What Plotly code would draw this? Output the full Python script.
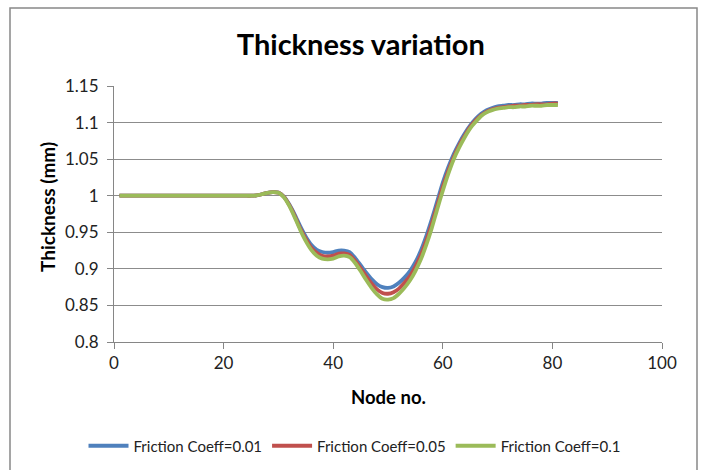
import plotly.graph_objects as go

nodes = list(range(1, 82))

flat = [1.0] * 25

coeff_001 = flat + [
    1.0005, 1.002, 1.004, 1.005, 1.0045, 0.999, 0.988, 0.974, 0.958, 0.944,
    0.933, 0.926, 0.923, 0.922, 0.923, 0.925, 0.925, 0.923, 0.915, 0.905,
    0.895, 0.886, 0.879, 0.875, 0.874, 0.876, 0.881, 0.888, 0.897, 0.909,
    0.925, 0.945, 0.968, 0.993, 1.018, 1.039, 1.057, 1.072, 1.085, 1.096,
    1.105, 1.112, 1.117, 1.120, 1.122, 1.123, 1.124, 1.124, 1.125, 1.125,
    1.126, 1.126, 1.126, 1.127, 1.127, 1.127,
]

coeff_005 = flat + [
    1.0005, 1.002, 1.004, 1.005, 1.0042, 0.9985, 0.987, 0.972, 0.955, 0.941,
    0.929, 0.922, 0.918, 0.917, 0.918, 0.921, 0.921, 0.919, 0.911, 0.901,
    0.890, 0.880, 0.872, 0.867, 0.866, 0.868, 0.873, 0.881, 0.890, 0.903,
    0.919, 0.939, 0.962, 0.987, 1.012, 1.034, 1.053, 1.069, 1.082, 1.094,
    1.103, 1.110, 1.115, 1.118, 1.120, 1.121, 1.122, 1.123, 1.123, 1.124,
    1.124, 1.125, 1.125, 1.125, 1.126, 1.126,
]

coeff_01 = flat + [
    1.0005, 1.002, 1.004, 1.005, 1.004, 0.998, 0.986, 0.970, 0.953, 0.938,
    0.926, 0.918, 0.914, 0.913, 0.914, 0.917, 0.918, 0.916, 0.908, 0.897,
    0.885, 0.874, 0.865, 0.859, 0.858, 0.860, 0.866, 0.874, 0.884, 0.897,
    0.913, 0.933, 0.956, 0.982, 1.007, 1.030, 1.050, 1.066, 1.080, 1.092,
    1.101, 1.109, 1.114, 1.117, 1.119, 1.120, 1.121, 1.121, 1.122, 1.122,
    1.123, 1.123, 1.123, 1.124, 1.124, 1.124,
]

series_names = ["Friction Coeff=0.01", "Friction Coeff=0.05", "Friction Coeff=0.1"]
series_values = [coeff_001, coeff_005, coeff_01]
series_colors = ["#4F81BD", "#C0504D", "#9BBB59"]

x_ticks = [0, 20, 40, 60, 80, 100]
y_ticks = [0.8, 0.85, 0.9, 0.95, 1.0, 1.05, 1.1, 1.15]
y_tick_text = ["0.8", "0.85", "0.9", "0.95", "1", "1.05", "1.1", "1.15"]

FONT = "Lato, Carlito, Calibri, sans-serif"
W, H = 702, 470
L, R, T, B = 114, 40, 86, 128
pw, ph = W - L - R, H - T - B

def px_x(px):
    return (px - L) / pw

def px_y(py):
    return (H - B - py) / ph

fig = go.Figure()
for name, vals, col in zip(series_names, series_values, series_colors):
    fig.add_trace(go.Scatter(
        x=nodes, y=vals, name=name, mode="lines",
        line=dict(color=col, width=3.8, shape="spline", smoothing=0.6),
    ))

fig.update_layout(
    width=W, height=H,
    margin=dict(l=L, r=R, t=T, b=B),
    paper_bgcolor="white", plot_bgcolor="white",
    font=dict(family=FONT, size=16, color="#222"),
    title=dict(text="<b>Thickness variation</b>", x=0.514, xref="container",
               y=1 - 45 / H, yref="container", xanchor="center", yanchor="middle",
               font=dict(family=FONT, size=29, color="black")),
    showlegend=True,
    legend=dict(orientation="h", x=0.505, xref="container", xanchor="center",
                y=1 - 446 / H, yref="container", yanchor="middle",
                font=dict(family=FONT, size=15, color="#222"),
                itemwidth=40, tracegroupgap=0, bgcolor="rgba(0,0,0,0)"),
    xaxis=dict(range=[0, 100], tickvals=x_ticks, showgrid=False,
               showline=True, linecolor="#868686", linewidth=1,
               ticks="outside", ticklen=6, tickcolor="#868686",
               zeroline=False, tickfont=dict(size=17, color="#222")),
    yaxis=dict(range=[0.8, 1.15], tickvals=y_ticks, ticktext=y_tick_text,
               showgrid=True, gridcolor="#8C8C8C", gridwidth=1,
               showline=True, linecolor="#868686", linewidth=1,
               ticks="outside", ticklen=6, tickcolor="#868686",
               ticklabelstandoff=5,
               zeroline=False, tickfont=dict(size=17, color="#222")),
    annotations=[
        dict(text="<b>Node no.</b>", xref="paper", yref="paper",
             x=0.5, y=px_y(397), xanchor="center", yanchor="middle",
             showarrow=False, font=dict(family=FONT, size=18.5, color="black")),
        dict(text="<b>Thickness (mm)</b>", xref="paper", yref="paper",
             x=px_x(47), y=px_y(207), xanchor="center", yanchor="middle",
             textangle=-90, showarrow=False,
             font=dict(family=FONT, size=19, color="black")),
    ],
    shapes=[
        dict(type="rect", xref="paper", yref="paper",
             x0=px_x(10), x1=px_x(697), y0=px_y(478), y1=px_y(8),
             line=dict(color="#888888", width=1.5), fillcolor="rgba(0,0,0,0)",
             layer="below"),
    ],
)

fig.write_html("out.html")
